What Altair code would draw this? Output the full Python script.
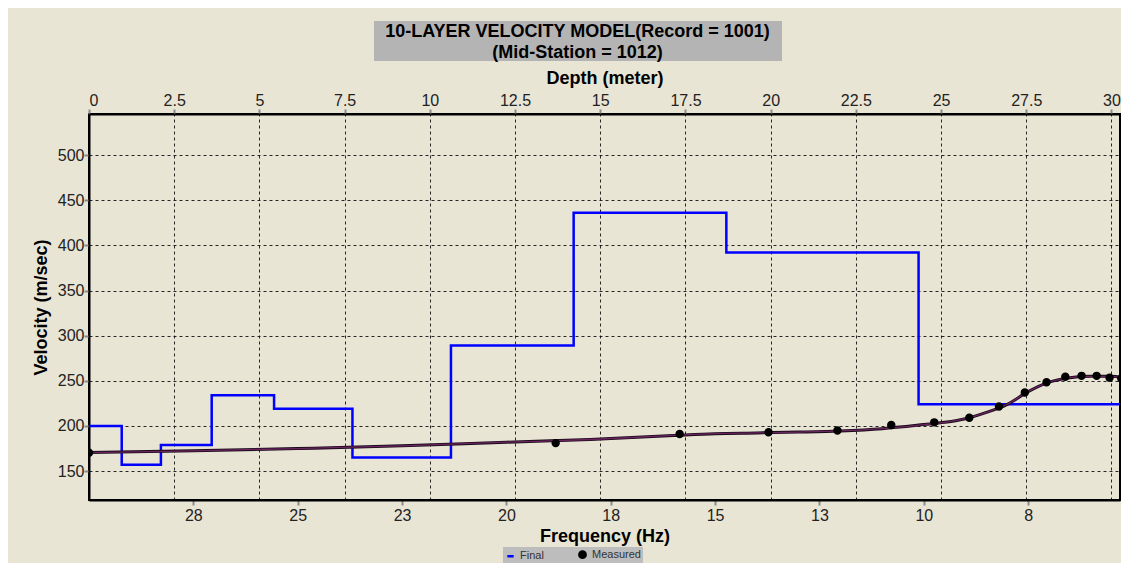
import altair as alt
import pandas as pd

# ---- data ----
layer_top_depth = [0, 0.96, 2.11, 3.60, 5.43, 7.73, 10.62, 14.22, 18.70, 24.34]
layer_velocity = [200, 157, 179, 234, 219, 165, 289, 436, 392, 224]
DEPTH_MAX = 30.25

meas_freq = [30.0, 18.82, 15.85, 13.72, 12.07, 10.78, 9.75, 8.91, 8.20, 7.58, 7.06, 6.61, 6.22, 5.86, 5.55, 5.27]
meas_vel = [170.4, 181.0, 191.0, 193.0, 195.0, 201.0, 204.0, 209.0, 221.5, 237.0, 248.5, 254.5, 255.5, 255.5, 253.5, 252.5]

curve_freq = [30, 27.5, 25, 22.5, 20, 18, 16, 15, 14, 13, 12, 11, 10, 9.5, 9, 8.5, 8, 7.5, 7, 6.5, 6, 5.5, 5.26]
curve_vel = [170.5, 172.5, 175, 178, 182, 185, 189.5, 191.5, 192.3, 193.2, 194.5, 197, 201.5, 204, 208, 215, 224, 238, 248.5, 253.5, 255, 255, 254]

depth_ticks = [0, 2.5, 5, 7.5, 10, 12.5, 15, 17.5, 20, 22.5, 25, 27.5, 30]
freq_ticks = [27.5, 25, 22.5, 20, 17.5, 15, 12.5, 10, 7.5]
vel_ticks = [150, 200, 250, 300, 350, 400, 450, 500]
series_names = ["Final", "Measured"]

FONT = "Liberation Sans"
BG = "#E9E5D5"

final_df = pd.DataFrame({
    "depth": layer_top_depth + [DEPTH_MAX],
    "vel": layer_velocity + [layer_velocity[-1]],
})
meas_df = pd.DataFrame({"freq": meas_freq, "vel": meas_vel, "series": "Measured"})
curve_df = pd.DataFrame({"freq": curve_freq, "vel": curve_vel})

y_enc = alt.Y(
    "vel:Q",
    scale=alt.Scale(domain=[118, 545.5], nice=False, zero=False),
    axis=alt.Axis(values=vel_ticks, grid=True, title="Velocity (m/sec)",
                  labelPadding=0, titlePadding=7),
)

final_line = alt.Chart(final_df).mark_line(
    interpolate="step-after", color="#0000FF", strokeWidth=2.5, clip=True
).encode(
    x=alt.X("depth:Q", scale=alt.Scale(domain=[0, DEPTH_MAX], nice=False),
            axis=alt.Axis(orient="top", values=depth_ticks, format=".1~f", grid=True,
                          title="Depth (meter)", titlePadding=5, labelPadding=1)),
    y=y_enc,
)

x_freq = alt.X("freq:Q", scale=alt.Scale(domain=[30, 5.3], nice=False),
               axis=alt.Axis(orient="bottom", values=freq_ticks, format="d", grid=False,
                             title="Frequency (Hz)", titlePadding=4, labelPadding=2))

curve_outer = alt.Chart(curve_df).mark_line(
    interpolate="monotone", color="#1a0a18", strokeWidth=3.0, clip=True
).encode(x=x_freq, y="vel:Q")
curve_inner = alt.Chart(curve_df).mark_line(
    interpolate="monotone", color="#6a2560", strokeWidth=1.3, clip=True
).encode(x=x_freq, y="vel:Q")

legend_def = alt.Legend(orient="none", legendX=414, legendY=433,
                        direction="horizontal", title=None,
                        fillColor="#BDBDBD", padding=2,
                        labelFont=FONT, labelFontSize=11, labelColor="#333333",
                        symbolSize=40, symbolStrokeWidth=2.5,
                        columnPadding=30)

measured = alt.Chart(meas_df).mark_point(
    filled=False, fill="black", strokeWidth=1.5, size=48, opacity=1, clip=True
).encode(
    x=x_freq,
    y="vel:Q",
    color=alt.Color("series:N",
                    scale=alt.Scale(domain=series_names, range=["#0000FF", "#000000"]),
                    legend=legend_def),
    shape=alt.Shape("series:N",
                    scale=alt.Scale(domain=series_names, range=["stroke", "circle"]),
                    legend=legend_def),
)

freq_layer = alt.layer(curve_outer, curve_inner, measured)

title_box = alt.Chart(pd.DataFrame({"a": [0]})).mark_rect(color="#B4B4B4").encode(
    x=alt.value(285), x2=alt.value(693), y=alt.value(-93), y2=alt.value(-53)
)

chart = alt.layer(title_box, final_line, freq_layer).resolve_scale(
    x="independent"
).properties(
    width=1031,
    height=386,
    autosize=alt.AutoSizeParams(type="none"),
    padding={"left": 81, "top": 106, "right": 1, "bottom": 63},
    background=BG,
    title=alt.Title(
        ["10-LAYER VELOCITY MODEL(Record = 1001)", "(Mid-Station = 1012)"],
        font=FONT, fontSize=18, fontWeight="bold", color="black",
        anchor="middle", offset=-41, lineHeight=21, dx=-27,
    ),
).configure_view(
    stroke="black", strokeWidth=2, fill=BG
).configure_axis(
    labelFont=FONT, labelFontSize=16, labelColor="#222222",
    titleFont=FONT, titleFontSize=18, titleFontWeight="bold", titleColor="black",
    domainColor="black", domainWidth=2,
    tickColor="#8a8a8a", tickWidth=2, tickSize=5,
    gridColor="#111111", gridDash=[3, 3], gridWidth=1, gridOpacity=0.9,
)

chart.save("out.html", embed_options={"renderer": "svg", "actions": False})
